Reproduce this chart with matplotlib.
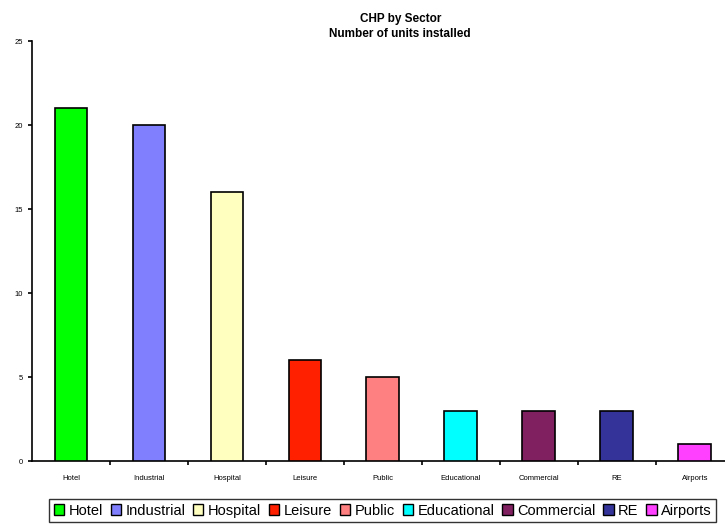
import matplotlib.pyplot as plt
import numpy as np

plt.rcParams['font.family'] = ['Liberation Sans', 'DejaVu Sans']

sectors = ["Hotel", "Industrial", "Hospital", "Leisure", "Public",
           "Educational", "Commercial", "RE", "Airports"]
units = [21, 20, 16, 6, 5, 3, 3, 3, 1]
colors = ["#00ff00", "#8080ff", "#ffffc0", "#ff2000", "#ff8080",
          "#00ffff", "#802060", "#333399", "#ff40ff"]

fig = plt.figure(figsize=(7.25, 5.24), dpi=100)
ax = fig.add_axes([0.0441, 0.1202, 0.968, 0.8015])

x = np.arange(len(sectors))
for i in range(len(sectors)):
    ax.bar(x[i], units[i], width=0.42, color=colors[i], edgecolor="black",
           linewidth=1.2, label=sectors[i], zorder=3)

ax.set_xlim(-0.5, len(sectors) - 0.5)
ax.set_ylim(0, 25)
ax.set_yticks(range(0, 26, 5))
ax.set_xticks(x)
ax.set_xticklabels(sectors, fontsize=5.5)
ax.set_xticks(np.arange(0.5, len(sectors) - 0.5, 1), minor=True)
ax.tick_params(axis="x", which="major", length=0, pad=10)
ax.tick_params(axis="x", which="minor", length=3, width=1.2, direction="out")
ax.tick_params(axis="y", labelsize=5.5, length=3, width=1.2, direction="out")
for s in ["top", "right"]:
    ax.spines[s].set_visible(False)
ax.spines["left"].set_linewidth(1.2)
ax.spines["bottom"].set_linewidth(1.2)

fig.text(0.552, 0.975, "CHP by Sector\nNumber of units installed",
         ha="center", va="top", fontsize=8.5, fontweight="bold", linespacing=1.35)

leg = fig.legend(loc="lower left", bbox_to_anchor=(0.068, 0.004), ncol=9,
                 fontsize=10.5, frameon=True, fancybox=False, handlelength=0.7,
                 handleheight=0.7, handletextpad=0.3, columnspacing=0.55,
                 borderpad=0.3, borderaxespad=0)
leg.get_frame().set_edgecolor("black")
leg.get_frame().set_linewidth(1.0)
for h in leg.legend_handles:
    h.set_linewidth(1.0)

fig.savefig("out.png", dpi=100)
